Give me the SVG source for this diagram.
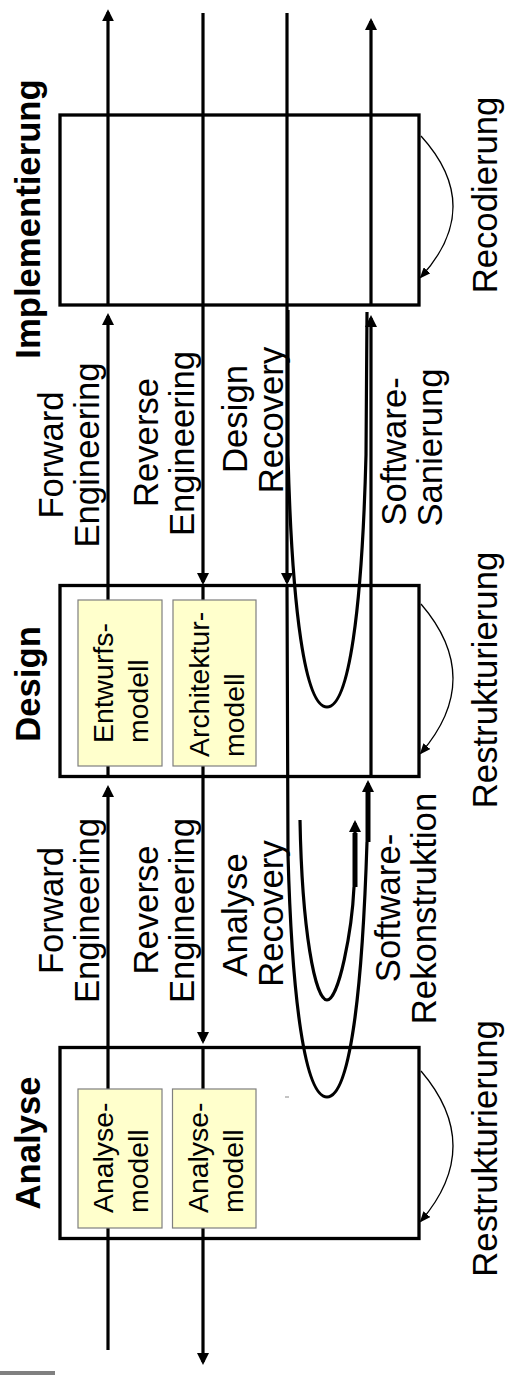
<svg xmlns="http://www.w3.org/2000/svg" width="507" height="1375" viewBox="0 0 507 1375">
<defs>
<style>
.box{fill:none;stroke:#000;stroke-width:3.3}
.ybox{fill:#FFFFCC;stroke:#7f7f7f;stroke-width:1.2}
.ln{fill:none;stroke:#000;stroke-width:3.2}
.thk{fill:none;stroke:#000;stroke-width:5}
.thin{fill:none;stroke:#000;stroke-width:1.3}
.t{font-family:"Liberation Sans",Arial,sans-serif;font-size:34.7px;fill:#000;text-anchor:middle}
.tb{font-weight:bold}
.y{font-size:28.4px;text-anchor:start}
</style>
<marker id="ah" markerUnits="userSpaceOnUse" viewBox="0 0 12 12" markerWidth="12" markerHeight="12" refX="9" refY="6" orient="auto"><path d="M0,0 L12,6 L0,12 z" fill="#000"/></marker>
<marker id="as" markerUnits="userSpaceOnUse" viewBox="0 0 11 9" markerWidth="11" markerHeight="9" refX="9" refY="4.5" orient="auto"><path d="M0,0 L11,4.5 L0,9 z" fill="#000"/></marker>
</defs>
<rect width="507" height="1375" fill="#fff"/>

<g id="connectors">
  <!-- Forward Engineering line -->
  <path class="ln" d="M108 1350 V788" marker-end="url(#ah)"/>
  <path class="ln" d="M108 777 V316" marker-end="url(#ah)"/>
  <path class="ln" d="M108 305 V12.3" marker-end="url(#ah)"/>
  <!-- Reverse Engineering line -->
  <path class="ln" d="M203 13 V582" marker-end="url(#ah)"/>
  <path class="ln" d="M203 586 V1041" marker-end="url(#ah)"/>
  <path class="ln" d="M203 1047 V1362" marker-end="url(#ah)"/>
  <!-- Design Recovery line -->
  <path class="ln" d="M287 13 V582" marker-end="url(#ah)"/>
  <!-- Software-Sanierung line -->
  <path class="ln" d="M371 777 V318" marker-end="url(#ah)"/>
  <path class="ln" d="M371 305 V21" marker-end="url(#ah)"/>
  <!-- Design U (Sanierung loop) -->
  <path class="ln" d="M288 310 L288 455 C292 610 305 707 327 707 C349 707 362 610 366 455 L367 312"/>
  <!-- Analyse big U (Rekonstruktion loop) -->
  <path class="ln" d="M287 586 L288 855 C292 1000 305 1097 327 1097 C349 1097 362 1000 367 842"/>
  <path class="thk" d="M368 842 V790"/>
  <path class="ln" d="M368 800 V783" marker-end="url(#ah)"/>
  <!-- Analyse Recovery small U -->
  <path class="ln" d="M300 820 C302 930 315 1000 327 1000 C339 1000 352 930 354 887"/>
  <path class="thk" d="M355 887 V833"/>
  <path class="ln" d="M355 840 V823" marker-end="url(#ah)"/>
  <!-- restructuring loops -->
  <path class="thin" d="M421 136 Q485 206.5 421 277" marker-end="url(#as)"/>
  <path class="thin" d="M421 604 Q485 678.5 421 753" marker-end="url(#as)"/>
  <path class="thin" d="M421 1071 Q485 1146 421 1221" marker-end="url(#as)"/>
  <line x1="285" y1="1097" x2="289" y2="1097" stroke="#888" stroke-width="1"/>
</g>

<g id="implementierung">
  <rect class="box" x="60" y="115" width="359" height="190"/>
  <text class="t tb" transform="translate(40,219) rotate(-90)">Implementierung</text>
</g>

<g id="design">
  <rect class="box" x="60" y="585.5" width="359" height="191"/>
  <text class="t tb" transform="translate(40,684) rotate(-90)">Design</text>
</g>
<g id="entwurfsmodell">
  <rect class="ybox" x="78" y="600" width="84" height="166"/>
  <text class="t y" transform="translate(113,743) rotate(-90)">Entwurfs-</text>
  <text class="t y" transform="translate(148,743) rotate(-90)">modell</text>
</g>
<g id="architekturmodell">
  <rect class="ybox" x="173" y="600" width="83" height="166"/>
  <text class="t y" transform="translate(209,757) rotate(-90)">Architektur-</text>
  <text class="t y" transform="translate(244,757) rotate(-90)">modell</text>
</g>

<g id="analyse">
  <rect class="box" x="60" y="1047.5" width="359" height="191"/>
  <text class="t tb" transform="translate(40,1143) rotate(-90)">Analyse</text>
</g>
<g id="analysemodell1">
  <rect class="ybox" x="78" y="1089" width="84" height="139"/>
  <text class="t y" transform="translate(113,1213) rotate(-90)">Analyse-</text>
  <text class="t y" transform="translate(148,1213) rotate(-90)">modell</text>
</g>
<g id="analysemodell2">
  <rect class="ybox" x="172.5" y="1089" width="83.5" height="139"/>
  <text class="t y" transform="translate(208,1213) rotate(-90)">Analyse-</text>
  <text class="t y" transform="translate(243,1213) rotate(-90)">modell</text>
</g>

<g id="labels">
  <text class="t" transform="translate(63,455) rotate(-90)">Forward</text>
  <text class="t" transform="translate(99,455) rotate(-90)">Engineering</text>
  <text class="t" transform="translate(158,442.5) rotate(-90)">Reverse</text>
  <text class="t" transform="translate(194,443.5) rotate(-90)">Engineering</text>
  <text class="t" transform="translate(247,419) rotate(-90)">Design</text>
  <text class="t" transform="translate(283,420) rotate(-90)">Recovery</text>
  <text class="t" transform="translate(406,451.5) rotate(-90)">Software-</text>
  <text class="t" transform="translate(442,447.5) rotate(-90)">Sanierung</text>

  <text class="t" transform="translate(63,910.5) rotate(-90)">Forward</text>
  <text class="t" transform="translate(99,910.5) rotate(-90)">Engineering</text>
  <text class="t" transform="translate(158,910) rotate(-90)">Reverse</text>
  <text class="t" transform="translate(194,910.5) rotate(-90)">Engineering</text>
  <text class="t" transform="translate(247,915) rotate(-90)">Analyse</text>
  <text class="t" transform="translate(283,913.5) rotate(-90)">Recovery</text>
  <text class="t" transform="translate(400,908) rotate(-90)">Software-</text>
  <text class="t" transform="translate(436,908.5) rotate(-90)">Rekonstruktion</text>

  <text class="t" transform="translate(497,195) rotate(-90)">Recodierung</text>
  <text class="t" transform="translate(497,680) rotate(-90)">Restrukturierung</text>
  <text class="t" transform="translate(497,1148.5) rotate(-90)">Restrukturierung</text>
</g>

<rect x="0" y="1371" width="55" height="4" fill="#808080"/>
</svg>
